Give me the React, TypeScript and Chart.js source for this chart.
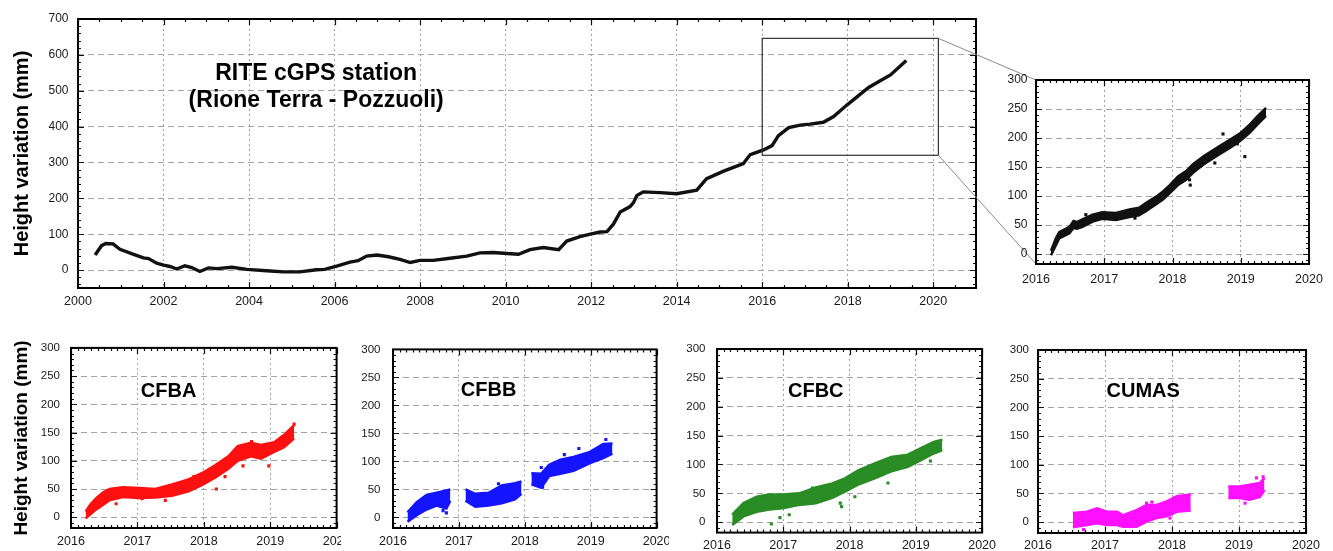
import React, { useEffect, useRef } from 'react';
import { Chart, registerables } from 'chart.js';

Chart.register(...registerables);

const FONT = '"Liberation Sans", Arial, Helvetica, sans-serif';
const Y_TITLE = 'Height variation (mm)';

// ---------- Main panel (RITE) ----------
const MAIN_X_TICKS = [2000, 2002, 2004, 2006, 2008, 2010, 2012, 2014, 2016, 2018, 2020];
const MAIN_Y_TICKS = [0, 100, 200, 300, 400, 500, 600, 700];
const RITE_YEARS = [
  2000.40, 2000.55, 2000.65, 2000.82, 2000.98, 2001.30, 2001.53, 2001.65, 2001.84, 2002.00,
  2002.15, 2002.31, 2002.50, 2002.66, 2002.85, 2003.05, 2003.25, 2003.60, 2003.95, 2004.41,
  2004.80, 2005.19, 2005.58, 2005.77, 2006.05, 2006.36, 2006.55, 2006.75, 2006.99, 2007.26,
  2007.53, 2007.77, 2008.00, 2008.31, 2008.70, 2009.09, 2009.40, 2009.71, 2010.03, 2010.30,
  2010.57, 2010.88, 2011.24, 2011.43, 2011.74, 2011.98, 2012.21, 2012.37, 2012.52, 2012.68,
  2012.91, 2012.99, 2013.07, 2013.22, 2013.61, 2014.00, 2014.47, 2014.70, 2015.10, 2015.56,
  2015.72, 2016.03, 2016.23, 2016.38, 2016.62, 2016.89, 2017.12, 2017.43, 2017.67, 2017.98,
  2018.21, 2018.49, 2018.76, 2019.00, 2019.23, 2019.37,
];
const RITE_MM = [
  42, 68, 74, 73, 58, 44, 34, 32, 19, 14,
  10, 3, 12, 7, -4, 6, 4, 8, 2, -2,
  -5, -5, 1, 2, 11, 22, 26, 39, 42, 37,
  30, 21, 27, 27, 33, 39, 48, 49, 46, 44,
  57, 63, 57, 81, 93, 100, 106, 107, 128, 162,
  177, 188, 208, 218, 216, 213, 223, 255, 276, 297,
  322, 335, 347, 375, 397, 404, 407, 412, 428, 460,
  482, 509, 528, 544, 569, 584,
];
const ZOOM_BOX_YEARS = [2016, 2020.12];
const ZOOM_BOX_MM = [320, 646];
const TITLE_LINES = ['RITE cGPS station', '(Rione Terra - Pozzuoli)'];

// ---------- Small panels shared ticks ----------
const PANEL_X_TICKS = [2016, 2017, 2018, 2019, 2020];
const PANEL_Y_TICKS = [0, 50, 100, 150, 200, 250, 300];

// ---------- Inset (RITE 2016-2019) ----------
const INSET_YEARS = [
  2016.22, 2016.29, 2016.34, 2016.49, 2016.55, 2016.60, 2016.68, 2016.83, 2016.97, 2017.17,
  2017.37, 2017.51, 2017.61, 2017.76, 2017.86, 2017.96, 2018.08, 2018.20, 2018.30, 2018.45,
  2018.54, 2018.69, 2018.84, 2018.99, 2019.13, 2019.25, 2019.37,
];
const INSET_HI = [6, 27, 38, 47, 57, 55, 60, 68, 72, 71, 77, 80, 88, 99, 108, 119, 134, 143, 155, 168, 175, 186, 197, 208, 223, 238, 252];
const INSET_LO = [-2, 15, 27, 36, 45, 44, 47, 56, 61, 59, 64, 67, 74, 86, 94, 105, 119, 128, 140, 154, 161, 172, 183, 195, 209, 224, 238];
const INSET_OUT_X = [2018.74, 2018.62, 2019.06, 2018.25, 2018.26, 2016.60, 2016.73, 2017.45, 2018.95];
const INSET_OUT_Y = [207, 157, 168, 128, 119, 48, 68, 62, 190];

// ---------- CFBA ----------
const CFBA_YEARS = [2016.22, 2016.30, 2016.38, 2016.48, 2016.58, 2016.78, 2017.03, 2017.27, 2017.52, 2017.77, 2017.97, 2018.17, 2018.37, 2018.51, 2018.71, 2018.86, 2019.06, 2019.21, 2019.36];
const CFBA_HI = [10, 24, 34, 44, 50, 53, 52, 50, 58, 67, 78, 92, 108, 126, 132, 128, 133, 146, 163];
const CFBA_LO = [-2, 6, 14, 22, 30, 36, 34, 35, 38, 46, 57, 70, 86, 100, 108, 104, 116, 124, 140];
const CFBA_OUT_X = [2018.98, 2018.59, 2018.19, 2017.42, 2018.32, 2016.68, 2017.07, 2019.36, 2018.72, 2017.85];
const CFBA_OUT_Y = [91, 91, 50, 30, 72, 24, 33, 165, 134, 72];

// ---------- CFBB (three segments) ----------
const CFBB_S1_YEARS = [2016.22, 2016.36, 2016.51, 2016.66, 2016.81, 2016.87];
const CFBB_S1_HI = [9, 27, 40, 44, 48, 50];
const CFBB_S1_LO = [-8, 4, 14, 21, 16, 30];
const CFBB_S2_YEARS = [2017.10, 2017.25, 2017.45, 2017.65, 2017.85, 2017.95];
const CFBB_S2_HI = [50, 42, 44, 57, 61, 64];
const CFBB_S2_LO = [30, 19, 21, 25, 32, 42];
const CFBB_S3_YEARS = [2018.10, 2018.25, 2018.37, 2018.54, 2018.74, 2018.99, 2019.19, 2019.33];
const CFBB_S3_HI = [79, 78, 94, 103, 108, 117, 131, 132];
const CFBB_S3_LO = [59, 53, 74, 78, 83, 97, 106, 114];
const CFBB_OUT_X = [2019.23, 2018.82, 2018.25, 2016.81, 2018.27, 2016.76, 2017.60, 2018.60];
const CFBB_OUT_Y = [139, 123, 89, 8, 54, 12, 60, 112];

// ---------- CFBC ----------
const CFBC_YEARS = [2016.23, 2016.40, 2016.60, 2016.79, 2016.99, 2017.24, 2017.49, 2017.74, 2017.93, 2018.13, 2018.38, 2018.63, 2018.88, 2019.07, 2019.27, 2019.40];
const CFBC_HI = [13, 33, 44, 48, 48, 50, 60, 67, 76, 90, 102, 113, 117, 128, 139, 143];
const CFBC_LO = [-5, 10, 18, 22, 24, 30, 33, 42, 53, 65, 76, 88, 96, 107, 119, 125];
const CFBC_OUT_X = [2017.02, 2016.82, 2017.09, 2017.88, 2018.58, 2018.08, 2017.44, 2019.22, 2016.95, 2017.86];
const CFBC_OUT_Y = [-19, -3, 13, 27, 68, 44, 59, 106, 8, 33];

// ---------- CUMAS (two segments) ----------
const CUMAS_S1_YEARS = [2016.52, 2016.73, 2016.88, 2017.03, 2017.18, 2017.27, 2017.47, 2017.62, 2017.77, 2017.92, 2018.07, 2018.28];
const CUMAS_S1_HI = [16, 18, 24, 18, 18, 12, 21, 30, 30, 36, 45, 48];
const CUMAS_S1_LO = [-9, -5, -2, -5, -5, -8, -8, 1, 7, 10, 18, 20];
const CUMAS_S2_YEARS = [2018.84, 2019.01, 2019.16, 2019.31, 2019.38];
const CUMAS_S2_HI = [62, 62, 65, 68, 77];
const CUMAS_S2_LO = [42, 42, 39, 44, 56];
const CUMAS_OUT_X = [2019.26, 2019.36, 2019.09, 2017.62, 2017.97, 2016.68, 2019.20, 2017.70];
const CUMAS_OUT_Y = [77, 79, 33, 33, 7, -13, 64, 35];

// ---------- Layout (page pixels) ----------
const L_MAIN = { canvas: { left: 0, top: 0, width: 1333, height: 310 }, plot: { l: 78, t: 19, r: 976, b: 288 } };
const L_INSET = { canvas: { left: 990, top: 60, width: 343, height: 240 }, plot: { l: 1036, t: 80, r: 1309, b: 264 } };
const L_CFBA = { canvas: { left: 0, top: 330, width: 357, height: 221 }, plot: { l: 71, t: 345, r: 340, b: 528 } };
const L_CFBB = { canvas: { left: 341, top: 330, width: 336, height: 221 }, plot: { l: 393, t: 345, r: 661, b: 528 } };
const L_CFBC = { canvas: { left: 669, top: 330, width: 332, height: 221 }, plot: { l: 717, t: 349, r: 985, b: 533 } };
const L_CUMAS = { canvas: { left: 997, top: 330, width: 336, height: 221 }, plot: { l: 1038, t: 350, r: 1306, b: 533 } };

const COLORS = { rite: '#111111', cfba: '#ff1010', cfbb: '#1414ff', cfbc: '#2a8c24', cumas: '#ff10ff' };

// ---------- plugins ----------
const bgPlugin = {
  id: 'bgFill',
  beforeDraw(chart: any, _a: any, o: any) {
    if (!o || !o.color) return;
    const { ctx, width, height } = chart;
    ctx.save();
    ctx.fillStyle = o.color;
    ctx.fillRect(0, 0, width, height);
    ctx.restore();
  },
};

const frameTicksPlugin = {
  id: 'frameTicks',
  afterDatasetsDraw(chart: any, _a: any, o: any) {
    const { ctx, chartArea: a, scales } = chart;
    const x = scales.x;
    const y = scales.y;
    ctx.save();
    ctx.strokeStyle = '#111';
    ctx.lineWidth = 1.2;
    ctx.beginPath();
    const isMajor = (v: number, m: number) => Math.abs(v / m - Math.round(v / m)) < 1e-6;
    const k0 = Math.ceil(x.min / o.xMinor - 1e-6);
    const k1 = Math.floor(x.max / o.xMinor + 1e-6);
    for (let k = k0; k <= k1; k++) {
      const v = k * o.xMinor;
      const px = Math.round(x.getPixelForValue(v)) + 0.5;
      const len = isMajor(v, o.xMajor) ? o.majorLen : o.minorLen;
      ctx.moveTo(px, a.bottom);
      ctx.lineTo(px, a.bottom - len);
      ctx.moveTo(px, a.top);
      ctx.lineTo(px, a.top + len);
    }
    const j0 = Math.ceil(y.min / o.yMinor - 1e-6);
    const j1 = Math.floor(y.max / o.yMinor + 1e-6);
    for (let j = j0; j <= j1; j++) {
      const v = j * o.yMinor;
      const py = Math.round(y.getPixelForValue(v)) + 0.5;
      const len = isMajor(v, o.yMajor) ? o.majorLen : o.minorLen;
      ctx.moveTo(a.left, py);
      ctx.lineTo(a.left + len, py);
      ctx.moveTo(a.right, py);
      ctx.lineTo(a.right - len, py);
    }
    ctx.stroke();
    ctx.lineWidth = o.frameWidth || 2;
    ctx.strokeStyle = '#000';
    ctx.strokeRect(a.left, a.top, a.right - a.left, a.bottom - a.top);
    ctx.restore();
  },
};

const notesPlugin = {
  id: 'notes',
  afterDatasetsDraw(chart: any, _a: any, o: any) {
    const items = (o && o.items) || [];
    const { ctx, scales } = chart;
    ctx.save();
    ctx.fillStyle = '#000';
    ctx.textAlign = 'center';
    ctx.textBaseline = 'middle';
    items.forEach((it: any) => {
      ctx.font = `bold ${it.size}px ${FONT}`;
      ctx.fillText(it.text, scales.x.getPixelForValue(it.x), scales.y.getPixelForValue(it.y));
    });
    ctx.restore();
  },
};

const zoomBoxPlugin = {
  id: 'zoomBox',
  afterDatasetsDraw(chart: any, _a: any, o: any) {
    if (!o || !o.years) return;
    const { ctx, scales } = chart;
    const x0 = scales.x.getPixelForValue(o.years[0]);
    const x1 = scales.x.getPixelForValue(o.years[1]);
    const y0 = scales.y.getPixelForValue(o.mm[0]);
    const y1 = scales.y.getPixelForValue(o.mm[1]);
    ctx.save();
    ctx.strokeStyle = '#333';
    ctx.lineWidth = 1.2;
    ctx.strokeRect(x0, y1, x1 - x0, y0 - y1);
    ctx.strokeStyle = '#8a8a8a';
    ctx.lineWidth = 1;
    ctx.beginPath();
    ctx.moveTo(x1, y1);
    ctx.lineTo(o.topTarget[0], o.topTarget[1]);
    ctx.moveTo(x1, y0);
    ctx.lineTo(o.bottomTarget[0], o.bottomTarget[1]);
    ctx.stroke();
    ctx.restore();
  },
};

// ---------- dataset helpers ----------
const pts = (xs: number[], ys: number[]) => xs.map((x, i) => ({ x, y: ys[i] }));

const band = (xs: number[], hi: number[], lo: number[], color: string) => [
  { data: pts(xs, lo), borderColor: color, borderWidth: 2.5, pointRadius: 0, fill: false, tension: 0 },
  { data: pts(xs, hi), borderColor: color, borderWidth: 2.5, pointRadius: 0, fill: '-1', backgroundColor: color, tension: 0 },
];

const scatter = (xs: number[], ys: number[], color: string) => ({
  data: pts(xs, ys),
  showLine: false,
  pointStyle: 'rect',
  pointRadius: 2.2,
  pointBackgroundColor: color,
  pointBorderWidth: 0,
  borderColor: color,
});

function buildConfig(spec: any) {
  const { layout, xMin, xMax, yMin, yMax, xTicks, yTicks, datasets, minor, notes, xPad, yPad, xFont, yFont, yTitle, bg, extra, extraOpts } = spec;
  const c = layout.canvas;
  const p = layout.plot;
  const tickColor = '#1a1a1a';
  return {
    type: 'line',
    data: { datasets },
    options: {
      animation: false,
      responsive: false,
      devicePixelRatio: 1,
      events: [],
      layout: { padding: { left: 0, top: p.t - c.top, right: c.left + c.width - p.r, bottom: 0 } },
      plugins: {
        legend: { display: false },
        tooltip: { enabled: false },
        frameTicks: minor,
        notes: { items: notes || [] },
        bgFill: { color: bg },
        ...(extraOpts || {}),
      },
      scales: {
        x: {
          type: 'linear',
          min: xMin,
          max: xMax,
          afterBuildTicks: (s: any) => { s.ticks = xTicks.map((v: number) => ({ value: v })); },
          afterFit: (s: any) => { s.height = c.top + c.height - p.b; },
          grid: { color: '#a3a3a3', lineWidth: 1, drawTicks: false },
          border: { display: false, dash: [2, 3] },
          ticks: { padding: xPad, color: tickColor, font: { family: FONT, size: xFont }, maxRotation: 0, autoSkip: false, callback: (v: any) => String(v) },
        },
        y: {
          type: 'linear',
          min: yMin,
          max: yMax,
          afterBuildTicks: (s: any) => { s.ticks = yTicks.map((v: number) => ({ value: v })); },
          afterFit: (s: any) => { s.width = p.l - c.left; },
          grid: { color: '#a3a3a3', lineWidth: 1, drawTicks: false },
          border: { display: false, dash: [6, 4] },
          ticks: { padding: yPad, color: tickColor, font: { family: FONT, size: yFont }, autoSkip: false, callback: (v: any) => String(v) },
          title: yTitle
            ? { display: true, text: Y_TITLE, color: '#000', font: { family: FONT, size: yTitle.size, weight: 'bold' }, padding: { top: yTitle.pad, bottom: 0 } }
            : { display: false },
        },
      },
    },
    plugins: [bgPlugin, frameTicksPlugin, notesPlugin, ...(extra || [])],
  };
}

function ChartBox({ layout, make, z }: { layout: any; make: () => any; z: number }) {
  const ref = useRef<HTMLCanvasElement>(null);
  useEffect(() => {
    const chart = new Chart(ref.current as HTMLCanvasElement, make());
    return () => chart.destroy();
  }, []);
  const c = layout.canvas;
  return (
    <canvas
      ref={ref}
      width={c.width}
      height={c.height}
      style={{ position: 'absolute', left: c.left, top: c.top, width: c.width, height: c.height, zIndex: z }}
    />
  );
}

const PANEL_MINOR = { xMinor: 0.1, xMajor: 1, yMinor: 10, yMajor: 50, minorLen: 3, majorLen: 6, frameWidth: 2 };

const mainConfig = () =>
  buildConfig({
    layout: L_MAIN,
    xMin: 2000, xMax: 2021, yMin: -50, yMax: 700,
    xTicks: MAIN_X_TICKS, yTicks: MAIN_Y_TICKS,
    datasets: [{ data: pts(RITE_YEARS, RITE_MM), borderColor: COLORS.rite, borderWidth: 3.4, pointRadius: 0, fill: false, tension: 0 }],
    minor: { xMinor: 0.5, xMajor: 2, yMinor: 20, yMajor: 100, minorLen: 3, majorLen: 6, frameWidth: 2 },
    notes: [
      { text: TITLE_LINES[0], x: 2005.57, y: 547, size: 23 },
      { text: TITLE_LINES[1], x: 2005.57, y: 472, size: 23 },
    ],
    xPad: 6.5, yPad: 9.5, xFont: 12.5, yFont: 12,
    yTitle: { size: 20, pad: 10 },
    extra: [zoomBoxPlugin],
    extraOpts: {
      zoomBox: {
        years: ZOOM_BOX_YEARS,
        mm: ZOOM_BOX_MM,
        topTarget: [L_INSET.plot.l, L_INSET.plot.t],
        bottomTarget: [L_INSET.plot.l, L_INSET.plot.b],
      },
    },
  });

const insetConfig = () =>
  buildConfig({
    layout: L_INSET,
    xMin: 2016, xMax: 2020, yMin: -17, yMax: 300,
    xTicks: PANEL_X_TICKS, yTicks: PANEL_Y_TICKS,
    datasets: [...band(INSET_YEARS, INSET_HI, INSET_LO, COLORS.rite), scatter(INSET_OUT_X, INSET_OUT_Y, COLORS.rite)],
    minor: PANEL_MINOR,
    xPad: 8, yPad: 8.5, xFont: 12.5, yFont: 12,
  });

const cfbaConfig = () =>
  buildConfig({
    layout: L_CFBA,
    xMin: 2016, xMax: 2020, yMin: -19, yMax: 300,
    xTicks: PANEL_X_TICKS, yTicks: PANEL_Y_TICKS,
    datasets: [...band(CFBA_YEARS, CFBA_HI, CFBA_LO, COLORS.cfba), scatter(CFBA_OUT_X, CFBA_OUT_Y, COLORS.cfba)],
    minor: PANEL_MINOR,
    notes: [{ text: 'CFBA', x: 2017.47, y: 222, size: 20 }],
    xPad: 6.5, yPad: 11, xFont: 12.5, yFont: 11.5,
    yTitle: { size: 19, pad: 10 },
    bg: '#ffffff',
  });

const cfbbConfig = () =>
  buildConfig({
    layout: L_CFBB,
    xMin: 2016, xMax: 2020, yMin: -19, yMax: 300,
    xTicks: PANEL_X_TICKS, yTicks: PANEL_Y_TICKS,
    datasets: [
      ...band(CFBB_S1_YEARS, CFBB_S1_HI, CFBB_S1_LO, COLORS.cfbb),
      ...band(CFBB_S2_YEARS, CFBB_S2_HI, CFBB_S2_LO, COLORS.cfbb),
      ...band(CFBB_S3_YEARS, CFBB_S3_HI, CFBB_S3_LO, COLORS.cfbb),
      scatter(CFBB_OUT_X, CFBB_OUT_Y, COLORS.cfbb),
    ],
    minor: PANEL_MINOR,
    notes: [{ text: 'CFBB', x: 2017.45, y: 227, size: 20 }],
    xPad: 6.5, yPad: 12.5, xFont: 12.5, yFont: 11.5,
    bg: '#ffffff',
  });

const cfbcConfig = () =>
  buildConfig({
    layout: L_CFBC,
    xMin: 2016, xMax: 2020, yMin: -18, yMax: 300,
    xTicks: PANEL_X_TICKS, yTicks: PANEL_Y_TICKS,
    datasets: [...band(CFBC_YEARS, CFBC_HI, CFBC_LO, COLORS.cfbc), scatter(CFBC_OUT_X, CFBC_OUT_Y, COLORS.cfbc)],
    minor: PANEL_MINOR,
    notes: [{ text: 'CFBC', x: 2017.49, y: 226, size: 20 }],
    xPad: 5, yPad: 11.5, xFont: 12.5, yFont: 11.5,
    bg: '#ffffff',
  });

const cumasConfig = () =>
  buildConfig({
    layout: L_CUMAS,
    xMin: 2016, xMax: 2020, yMin: -19, yMax: 300,
    xTicks: PANEL_X_TICKS, yTicks: PANEL_Y_TICKS,
    datasets: [
      ...band(CUMAS_S1_YEARS, CUMAS_S1_HI, CUMAS_S1_LO, COLORS.cumas),
      ...band(CUMAS_S2_YEARS, CUMAS_S2_HI, CUMAS_S2_LO, COLORS.cumas),
      scatter(CUMAS_OUT_X, CUMAS_OUT_Y, COLORS.cumas),
    ],
    minor: PANEL_MINOR,
    notes: [{ text: 'CUMAS', x: 2017.57, y: 227, size: 20 }],
    xPad: 5, yPad: 9, xFont: 12.5, yFont: 11.5,
    bg: '#ffffff',
  });

export default function App() {
  return (
    <div style={{ position: 'absolute', left: 0, top: 0, width: 1333, height: 551, background: '#fff', overflow: 'hidden' }}>
      <ChartBox layout={L_MAIN} make={mainConfig} z={1} />
      <ChartBox layout={L_INSET} make={insetConfig} z={2} />
      <ChartBox layout={L_CFBA} make={cfbaConfig} z={3} />
      <ChartBox layout={L_CFBB} make={cfbbConfig} z={4} />
      <ChartBox layout={L_CFBC} make={cfbcConfig} z={5} />
      <ChartBox layout={L_CUMAS} make={cumasConfig} z={6} />
    </div>
  );
}
